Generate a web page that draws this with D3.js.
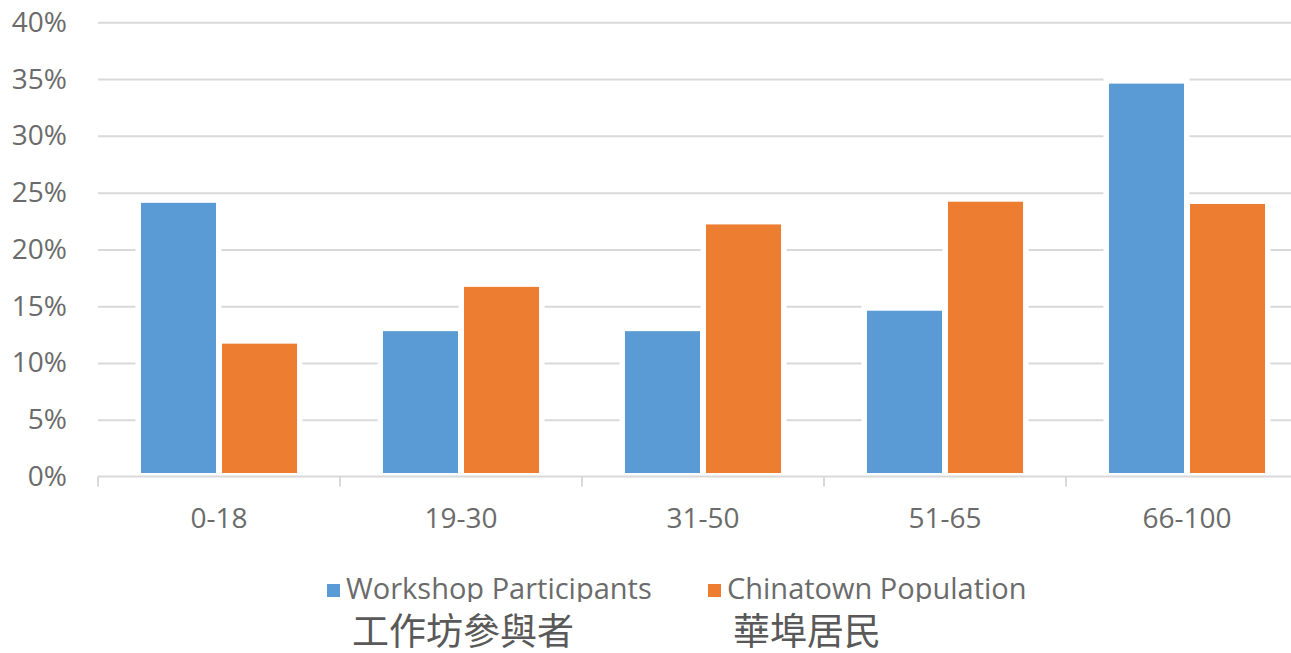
<!DOCTYPE html>
<html>
<head>
<meta charset="utf-8">
<script src="https://cdn.jsdelivr.net/npm/d3@7"></script>
<style>
  body { margin: 0; background: #fff; }
  text { font-family: "Open Sans", "Noto Sans", sans-serif; fill: #6b6b6b; }
  .zh { font-family: "Noto Sans CJK TC", "Noto Sans CJK SC", sans-serif; fill: #595959; }
</style>
</head>
<body>
<script>
// chart data
var categories = ['0-18', '19-30', '31-50', '51-65', '66-100'];
var workshop = [0.241, 0.128, 0.128, 0.146, 0.346];
var chinatown = [0.117, 0.167, 0.222, 0.242, 0.240];
var yTicks = [0, 0.05, 0.10, 0.15, 0.20, 0.25, 0.30, 0.35, 0.40];
var seriesNames = ['Workshop Participants', 'Chinatown Population'];
var seriesNamesZh = ['工作坊參與者', '華埠居民'];
var colors = ['#5B9BD5', '#ED7D31'];

var width = 1291, height = 653;
var plotLeft = 98, plotRight = 1308, plotTop = 22.3, plotBottom = 476.5;

var svg = d3.select('body').append('svg')
    .attr('width', width)
    .attr('height', height);

var x = d3.scaleBand()
    .domain(categories)
    .range([plotLeft, plotRight])
    .paddingInner(0.355)
    .paddingOuter(0.1775);

var x1 = d3.scaleBand()
    .domain([0, 1])
    .range([0, x.bandwidth()])
    .paddingInner(0.074);

var y = d3.scaleLinear()
    .domain([0, 0.4])
    .range([plotBottom, plotTop]);

// gridlines
var grid = svg.append('g')
    .attr('transform', 'translate(' + plotLeft + ',0)')
    .call(d3.axisLeft(y).tickValues(yTicks.slice(1)).tickSize(-(plotRight - plotLeft)).tickFormat(''));
grid.select('.domain').remove();
grid.selectAll('line').attr('stroke', '#d9d9d9').attr('stroke-width', 2);

// y labels
var yAxis = svg.append('g')
    .attr('transform', 'translate(' + plotLeft + ',0)')
    .call(d3.axisLeft(y).tickValues(yTicks).tickSize(0).tickPadding(31).tickFormat(d3.format('.0%')));
yAxis.select('.domain').remove();
yAxis.selectAll('text').attr('font-size', 28).attr('fill', '#6b6b6b');

var rows = categories.map(function (c, i) {
    return { cat: c, vals: [workshop[i], chinatown[i]] };
});

var groups = svg.selectAll('.grp')
    .data(rows)
    .enter().append('g')
    .attr('class', 'grp')
    .attr('transform', function (d) { return 'translate(' + x(d.cat) + ',0)'; });

// white halo behind the bars (breaks the gridlines like the original)
groups.selectAll('.halo')
    .data(function (d) { return d.vals; })
    .enter().append('rect')
    .attr('class', 'halo')
    .attr('x', function (d, i) { return x1(i) - 5.5; })
    .attr('y', function (d) { return y(d) - 5.5; })
    .attr('width', x1.bandwidth() + 11)
    .attr('height', function (d) { return y(0) - y(d) + 5.5; })
    .attr('fill', '#fff');

groups.selectAll('.bar')
    .data(function (d) { return d.vals; })
    .enter().append('rect')
    .attr('class', 'bar')
    .attr('x', function (d, i) { return x1(i); })
    .attr('y', function (d) { return y(d); })
    .attr('width', x1.bandwidth())
    .attr('height', function (d) { return y(0) - y(d) - 3.5; })
    .attr('fill', function (d, i) { return colors[i]; });

// x axis line and boundary ticks
svg.append('line')
    .attr('x1', plotLeft).attr('x2', plotRight)
    .attr('y1', y(0)).attr('y2', y(0))
    .attr('stroke', '#d9d9d9').attr('stroke-width', 2);

svg.selectAll('.xtick')
    .data(d3.range(categories.length + 1))
    .enter().append('line')
    .attr('class', 'xtick')
    .attr('x1', function (i) { return plotLeft + i * x.step(); })
    .attr('x2', function (i) { return plotLeft + i * x.step(); })
    .attr('y1', y(0))
    .attr('y2', y(0) + 10)
    .attr('stroke', '#d9d9d9').attr('stroke-width', 2);

var xAxis = svg.append('g')
    .attr('transform', 'translate(0,' + y(0) + ')')
    .call(d3.axisBottom(x).tickSize(0).tickPadding(31.5));
xAxis.select('.domain').remove();
xAxis.selectAll('text').attr('font-size', 28).attr('fill', '#6b6b6b');

// legend
svg.append('clipPath').attr('id', 'legclip')
    .append('rect').attr('x', 0).attr('y', 0).attr('width', width).attr('height', 602);

var legX = [327, 708];
var legend = svg.selectAll('.leg')
    .data(seriesNames)
    .enter().append('g')
    .attr('class', 'leg')
    .attr('transform', function (d, i) { return 'translate(' + legX[i] + ',0)'; });

legend.append('rect')
    .attr('x', 0).attr('y', 584)
    .attr('width', 13).attr('height', 13)
    .attr('fill', function (d, i) { return colors[i]; });

legend.append('text')
    .attr('x', 19).attr('y', 599)
    .attr('font-size', 29)
    .attr('clip-path', 'url(#legclip)')
    .text(function (d) { return d; });

legend.append('text')
    .attr('class', 'zh')
    .attr('x', 25)
    .attr('y', 645)
    .attr('font-size', 37)
    .text(function (d, i) { return seriesNamesZh[i]; });
</script>
</body>
</html>
